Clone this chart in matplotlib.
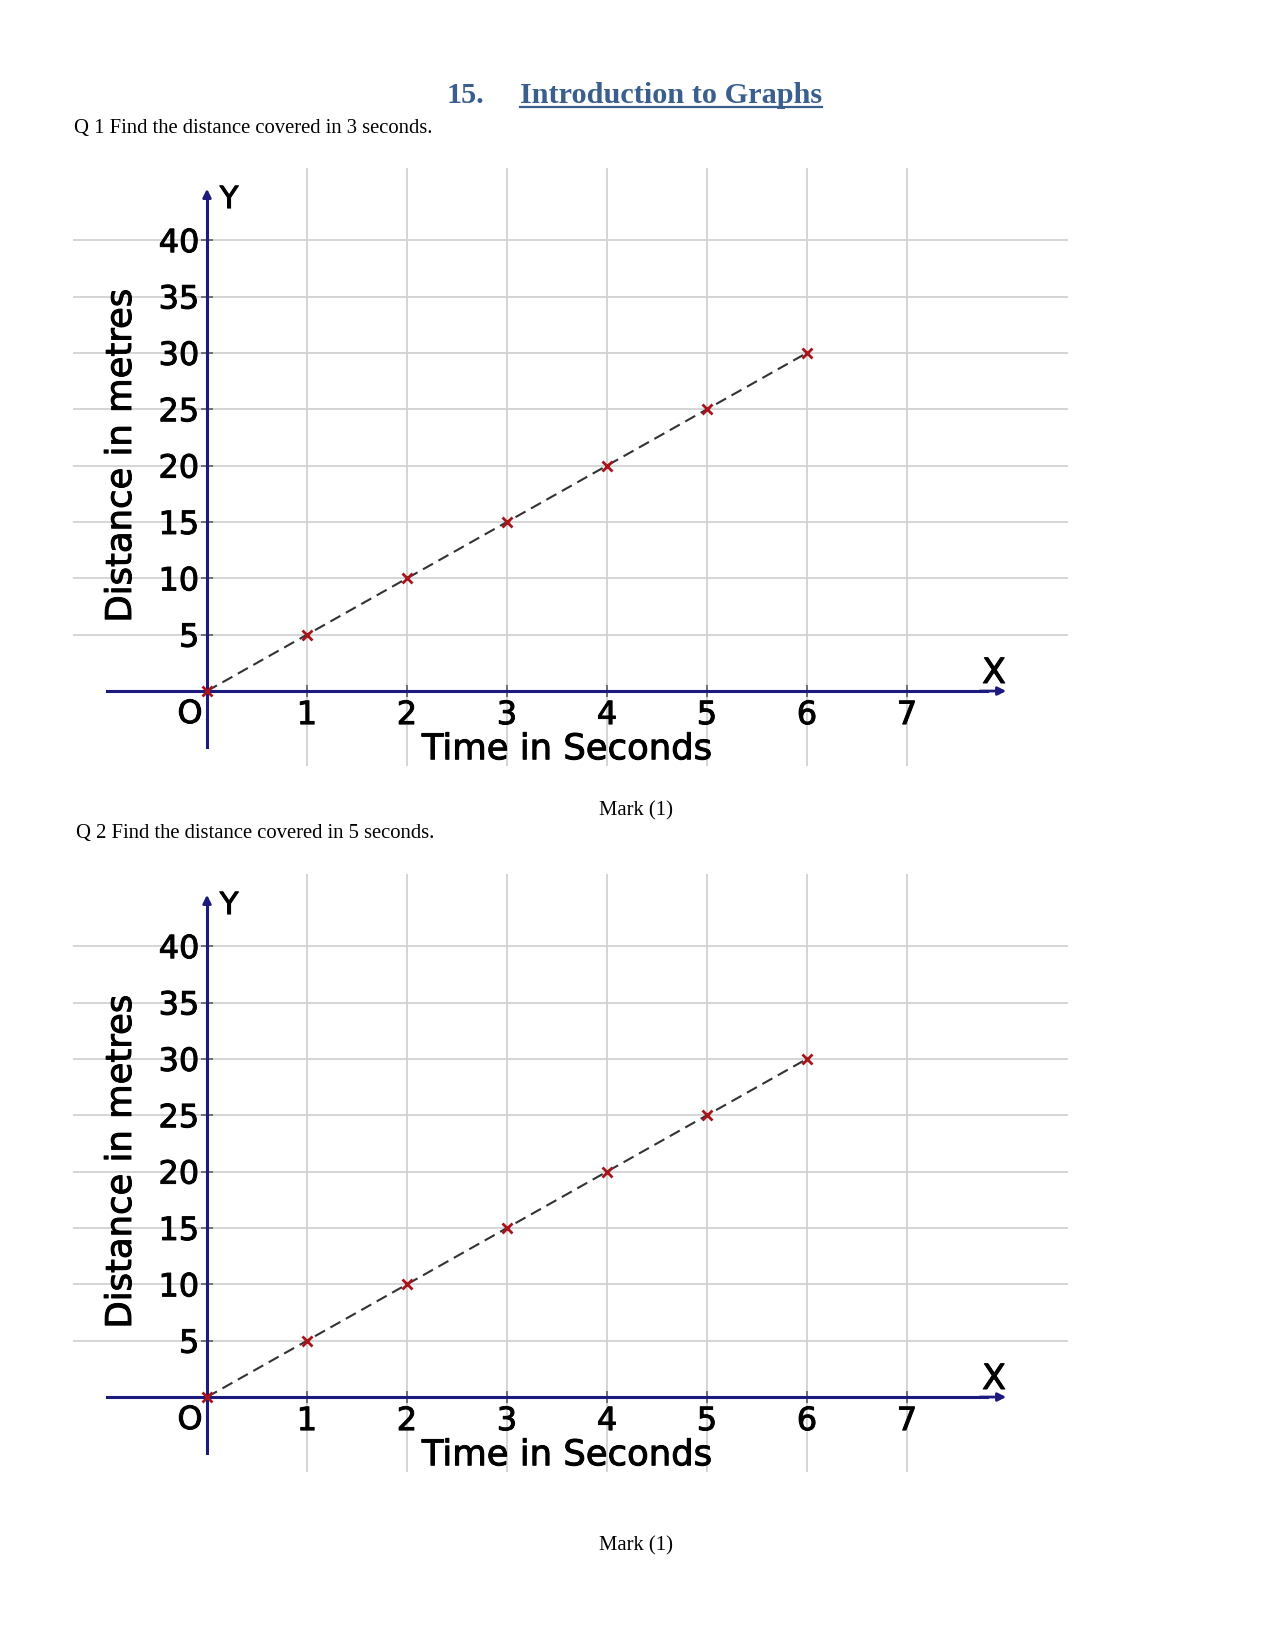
import numpy as np
import matplotlib.pyplot as plt
import matplotlib.patheffects as pe

W, H = 1275, 1651

# data
time_s = [0, 1, 2, 3, 4, 5, 6]
distance_m = [0, 5, 10, 15, 20, 25, 30]
x_ticks = [1, 2, 3, 4, 5, 6, 7]
y_ticks = [5, 10, 15, 20, 25, 30, 35, 40]

title_num = "15."
title_text = "Introduction to Graphs"
questions = ["Q 1 Find the distance covered in 3 seconds.",
             "Q 2 Find the distance covered in 5 seconds."]
mark_text = "Mark (1)"

NAVY = '#1c1a7c'
GRID = '#d2d2d2'
BLUE = '#3a5f8e'

# slight stroke so the chart text looks as heavy as the scanned one
heavy = [pe.withStroke(linewidth=0.7, foreground='black')]


def fx(px):
    return px / W


def fy(py):
    return 1 - py / H


fig = plt.figure(figsize=(W / 100, H / 100), dpi=100)
fig.patch.set_facecolor('white')


def draw_graph(top_px):
    ax = fig.add_axes([fx(73), fy(top_px + 598), 995 / W, 598 / H])
    ax.set_xlim(-1.34, 8.61)
    ax.set_ylim(-6.65, 46.4)
    ax.set_facecolor('none')

    # axes through the origin
    for s in ['top', 'right']:
        ax.spines[s].set_visible(False)
    ax.spines['left'].set_position(('data', 0))
    ax.spines['bottom'].set_position(('data', 0))
    ax.spines['left'].set_bounds(-5, 44)
    ax.spines['bottom'].set_bounds(-1, 7.8)
    for s in ['left', 'bottom']:
        ax.spines[s].set_color(NAVY)
        ax.spines[s].set_linewidth(2.2)
        ax.spines[s].set_zorder(3)

    ax.annotate('', xy=(0, 44.8), xytext=(0, 43.5),
                arrowprops=dict(arrowstyle='-|>', color=NAVY, lw=2, mutation_scale=12))
    ax.annotate('', xy=(8.02, 0), xytext=(7.7, 0),
                arrowprops=dict(arrowstyle='-|>', color=NAVY, lw=2, mutation_scale=12))

    ax.set_xticks(x_ticks)
    ax.set_yticks(y_ticks)
    ax.tick_params(direction='inout', length=9, width=1.1, color='#555555',
                   labelsize=23, labelcolor='black')
    ax.tick_params(axis='y', pad=1)
    ax.tick_params(axis='x', pad=2)
    for lab in ax.get_xticklabels() + ax.get_yticklabels():
        lab.set_path_effects(heavy)
    ax.grid(True, color=GRID, lw=1.3)
    ax.set_axisbelow(True)

    ax.annotate('O', xy=(0, 0), xytext=(-17, -8), textcoords='offset pixels',
                ha='center', va='top', fontsize=23, path_effects=heavy)
    ax.text(0.22, 43.6, 'Y', ha='center', va='center', fontsize=22, path_effects=heavy)
    ax.text(7.87, 1.6, 'X', ha='center', va='center', fontsize=25, path_effects=heavy)

    ax.text(-0.86, 20.9, 'Distance in metres', rotation=90,
            ha='center', va='center', fontsize=25.5, path_effects=heavy)
    ax.text(3.6, -6.05, 'Time in Seconds', ha='center', va='baseline',
            fontsize=25.5, path_effects=heavy)

    ax.plot(time_s, distance_m, linestyle=(0, (5.5, 3)), color='#333333', lw=1.5, zorder=4)
    ax.plot(time_s, distance_m, linestyle='none', marker='x', color='#a8141c',
            markersize=7, markeredgewidth=2, zorder=5)
    return ax


draw_graph(168)
draw_graph(874)

# heading
fig.text(fx(447), fy(103), title_num, ha='left', va='baseline', color=BLUE,
         fontsize=21.8, fontweight='bold', family='Liberation Serif')
t = fig.text(fx(520), fy(103), title_text, ha='left', va='baseline', color=BLUE,
             fontsize=21.8, fontweight='bold', family='Liberation Serif')
fig.canvas.draw()
bb = t.get_window_extent()
fig.add_artist(plt.Line2D([bb.x0 / W, bb.x1 / W], [fy(107), fy(107)],
                          color=BLUE, lw=1.6))

fig.text(fx(74), fy(129), questions[0], ha='left', va='center',
         fontsize=14.9, family='Liberation Serif')
fig.text(fx(76), fy(833), questions[1], ha='left', va='center',
         fontsize=14.9, family='Liberation Serif')
fig.text(fx(636), fy(811), mark_text, ha='center', va='center',
         fontsize=14.9, family='Liberation Serif')
fig.text(fx(636), fy(1546), mark_text, ha='center', va='center',
         fontsize=14.9, family='Liberation Serif')

fig.savefig('out.png', dpi=100, facecolor='white')
